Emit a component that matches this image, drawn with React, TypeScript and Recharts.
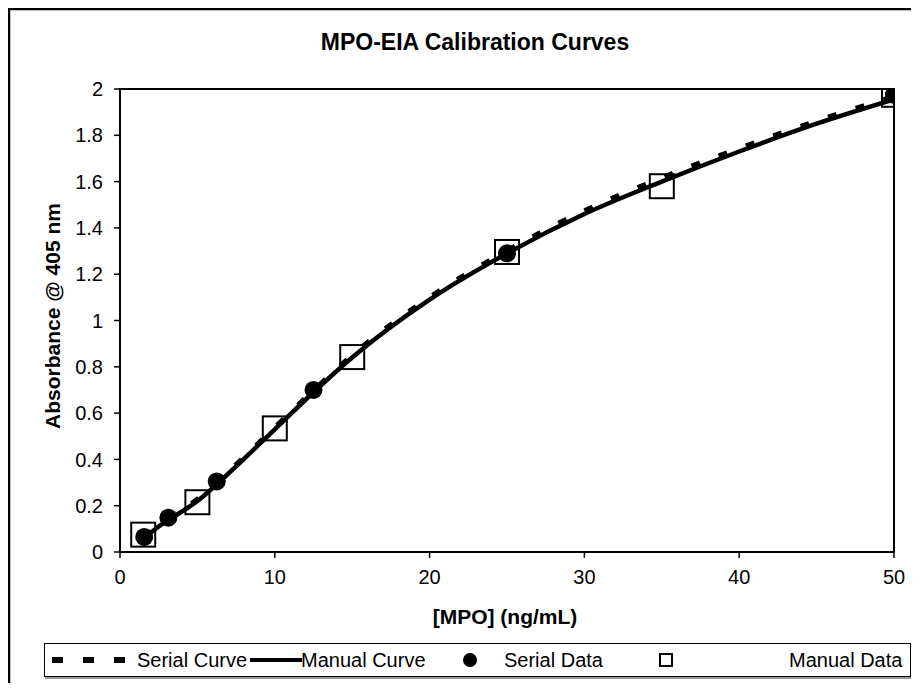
import React from 'react';
import {
  ComposedChart,
  Line,
  Scatter,
  XAxis,
  YAxis,
  ReferenceArea,
} from 'recharts';

// fitted curves
const curveX = [1.5625, 2.5, 5, 7.5, 10, 12.5, 15, 20, 25, 30, 35, 40, 45, 50];
const serialCurveY = [0.065, 0.115, 0.228, 0.378, 0.538, 0.698, 0.85, 1.1, 1.302, 1.474, 1.616, 1.744, 1.862, 1.968];
const manualCurveY = [0.06, 0.11, 0.22, 0.37, 0.53, 0.69, 0.84, 1.09, 1.29, 1.46, 1.6, 1.73, 1.85, 1.955];

// measured points
const serialX = [1.5625, 3.125, 6.25, 12.5, 25, 50];
const serialY = [0.065, 0.148, 0.305, 0.7, 1.29, 1.975];
const manualX = [1.5, 5, 10, 15, 25, 35, 50];
const manualY = [0.075, 0.215, 0.534, 0.842, 1.296, 1.58, 1.975];

const xTicks = [0, 10, 20, 30, 40, 50];
const yTicks = [0, 0.2, 0.4, 0.6, 0.8, 1, 1.2, 1.4, 1.6, 1.8, 2];

const FONT = '"Liberation Sans", Arial, sans-serif';

const toPoints = (xs: number[], ys: number[]) => xs.map((x, i) => ({ x, y: ys[i] }));

const serialCurve = toPoints(curveX, serialCurveY);
const manualCurve = toPoints(curveX, manualCurveY);
const serialData = toPoints(serialX, serialY);
const manualData = toPoints(manualX, manualY);

const Dot = (props: any) => <circle cx={props.cx} cy={props.cy} r={9} fill="#000" />;
const Square = (props: any) => (
  <rect x={props.cx - 12} y={props.cy - 12} width={24} height={24} fill="none" stroke="#000" strokeWidth={2} />
);

const XTitle = () => (
  <text x={497} y={608} textAnchor="middle" dominantBaseline="central" fontFamily={FONT} fontWeight="bold" fontSize={21} fill="#000">
    [MPO] (ng/mL)
  </text>
);

const YTitle = () => (
  <text
    x={44}
    y={308}
    transform="rotate(-90, 44, 308)"
    textAnchor="middle"
    dominantBaseline="central"
    fontFamily={FONT}
    fontWeight="bold"
    fontSize={21}
    fill="#000"
  >
    Absorbance @ 405 nm
  </text>
);

const fmt = (v: number) => String(Number(v.toFixed(1)));

function LegendBox() {
  const txt = { fontFamily: FONT, fontSize: 20, fill: '#000' };
  return (
    <div
      style={{
        position: 'absolute',
        left: 36,
        top: 635,
        width: 865,
        height: 32,
        border: '1px solid #000',
        boxShadow: '1px 2px 0 #999',
        background: '#fff',
      }}
    >
      <svg width={865} height={32} style={{ display: 'block' }}>
        <line x1={7} x2={80} y1={16} y2={16} stroke="#000" strokeWidth={6} strokeDasharray="11 20" />
        <text x={92} y={16} dominantBaseline="central" {...txt}>Serial Curve</text>
        <line x1={205} x2={257} y1={16} y2={16} stroke="#000" strokeWidth={4} />
        <text x={256} y={16} dominantBaseline="central" {...txt}>Manual Curve</text>
        <circle cx={425} cy={16} r={7} fill="#000" />
        <text x={459} y={16} dominantBaseline="central" {...txt}>Serial Data</text>
        <rect x={615} y={10} width={12} height={12} fill="none" stroke="#000" strokeWidth={2} />
        <text x={744} y={16} dominantBaseline="central" {...txt}>Manual Data</text>
      </svg>
    </div>
  );
}

export default function App() {
  return (
    <div style={{ position: 'relative', width: 903, height: 675, background: '#fff', fontFamily: FONT }}>
      <div style={{ position: 'absolute', left: 0, top: 0, width: 903, height: 2, background: '#000' }} />
      <div style={{ position: 'absolute', left: 0, top: 0, width: 2, height: 675, background: '#000' }} />
      <div style={{ position: 'absolute', left: 2, top: 2, width: 901, height: 1, background: '#bbb' }} />
      <div style={{ position: 'absolute', left: 2, top: 2, width: 1, height: 673, background: '#bbb' }} />

      <div
        style={{
          position: 'absolute',
          left: 0,
          top: 21,
          width: 934,
          textAlign: 'center',
          fontSize: 23,
          fontWeight: 'bold',
          lineHeight: '26px',
        }}
      >
        MPO-EIA Calibration Curves
      </div>

      <div style={{ position: 'absolute', left: 0, top: 0 }}>
        <ComposedChart width={903} height={675} margin={{ top: 81, right: 17, bottom: 71, left: 0 }}>
          <XAxis
            type="number"
            dataKey="x"
            domain={[0, 50]}
            ticks={xTicks}
            allowDataOverflow
            height={60}
            tickSize={6}
            tickMargin={12}
            axisLine={{ stroke: '#000', strokeWidth: 2 }}
            tickLine={{ stroke: '#000', strokeWidth: 1.5 }}
            tick={{ fill: '#000', fontSize: 20, fontFamily: FONT }}
            label={<XTitle />}
          />
          <YAxis
            type="number"
            dataKey="y"
            domain={[0, 2]}
            ticks={yTicks}
            allowDataOverflow
            width={112}
            tickSize={6}
            tickMargin={11}
            tickFormatter={fmt}
            axisLine={{ stroke: '#000', strokeWidth: 2 }}
            tickLine={{ stroke: '#000', strokeWidth: 1.5 }}
            tick={{ fill: '#000', fontSize: 20, fontFamily: FONT }}
            label={<YTitle />}
          />
          <ReferenceArea x1={0} x2={50} y1={0} y2={2} fill="none" stroke="#000" strokeWidth={2} />
          <Line
            data={serialCurve}
            dataKey="y"
            type="monotone"
            stroke="#000"
            strokeWidth={5}
            strokeDasharray="9 20"
            dot={false}
            activeDot={false}
            isAnimationActive={false}
          />
          <Line
            data={manualCurve}
            dataKey="y"
            type="monotone"
            stroke="#000"
            strokeWidth={4.5}
            dot={false}
            activeDot={false}
            isAnimationActive={false}
          />
          <Scatter data={manualData} dataKey="y" shape={<Square />} isAnimationActive={false} />
          <Scatter data={serialData} dataKey="y" shape={<Dot />} isAnimationActive={false} />
        </ComposedChart>
      </div>

      <LegendBox />
    </div>
  );
}
